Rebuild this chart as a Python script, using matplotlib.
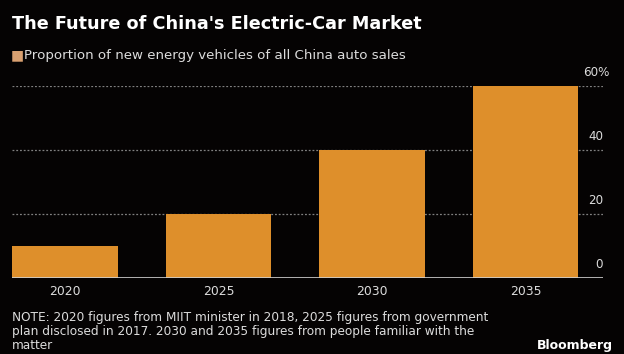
import matplotlib
matplotlib.use("Agg")
import matplotlib.pyplot as plt

years = ["2020", "2025", "2030", "2035"]
shares = [10, 20, 40, 60]
yticks = [0, 20, 40, 60]
ytick_labels = ["0", "20", "40", "60%"]

BG = "#050303"
BAR = "#DE8F2B"
TXT = "#DCDCDC"
FAM = "DejaVu Sans"

fig = plt.figure(figsize=(6.24, 3.54), dpi=100, facecolor=BG)
ax = fig.add_axes([12/624, 76/354, (603-12)/624, (278-86)/354])
ax.set_facecolor(BG)

x = list(range(len(years)))
ax.bar(x, shares, width=0.685, color=BAR, zorder=3)
ax.set_xlim(-0.345, 3.505)
ax.set_ylim(0, 60)

for t, lab in zip(yticks, ytick_labels):
    if t == 0:
        ax.axhline(t, color="#D0D0D0", lw=1.2, zorder=4)
    else:
        ax.axhline(t, color="#808080", lw=0.9, ls=(0, (1.5, 1.5)), zorder=1)
    xr = 3.55 if lab.endswith("%") else 3.505
    ax.text(xr, t + 3.1, lab, color=TXT, fontsize=8.6, ha="right", va="baseline",
            family=FAM, clip_on=False)

for s in ax.spines.values():
    s.set_visible(False)
ax.set_yticks([])
ax.set_xticks(x)
ax.set_xticklabels(years, color=TXT, fontsize=8.9, family=FAM)
ax.tick_params(axis="x", length=0, pad=5)

fig.text(12/624, 1 - 24/354, "The Future of China's Electric-Car Market", color="white",
         fontsize=12.7, fontweight="bold", va="center", ha="left", family=FAM)
fig.text(11/624, 1 - 55/354, "\u25A0", color="#D9A070", fontsize=10, va="center", ha="left",
         family=FAM)
fig.text(24/624, 1 - 55/354, "Proportion of new energy vehicles of all China auto sales",
         color=TXT, fontsize=9.6, va="center", ha="left", family=FAM)

note = ("NOTE: 2020 figures from MIIT minister in 2018, 2025 figures from government\n"
        "plan disclosed in 2017. 2030 and 2035 figures from people familiar with the\n"
        "matter")
fig.text(12/624, 1 - 311/354, note, color=TXT, fontsize=8.7, va="top", ha="left",
         linespacing=1.08, family=FAM)
fig.text(613/624, 1 - 352/354, "Bloomberg", color="white", fontsize=9, fontweight="bold",
         va="bottom", ha="right", family=FAM)

fig.savefig("out.png", dpi=100, facecolor=BG)
